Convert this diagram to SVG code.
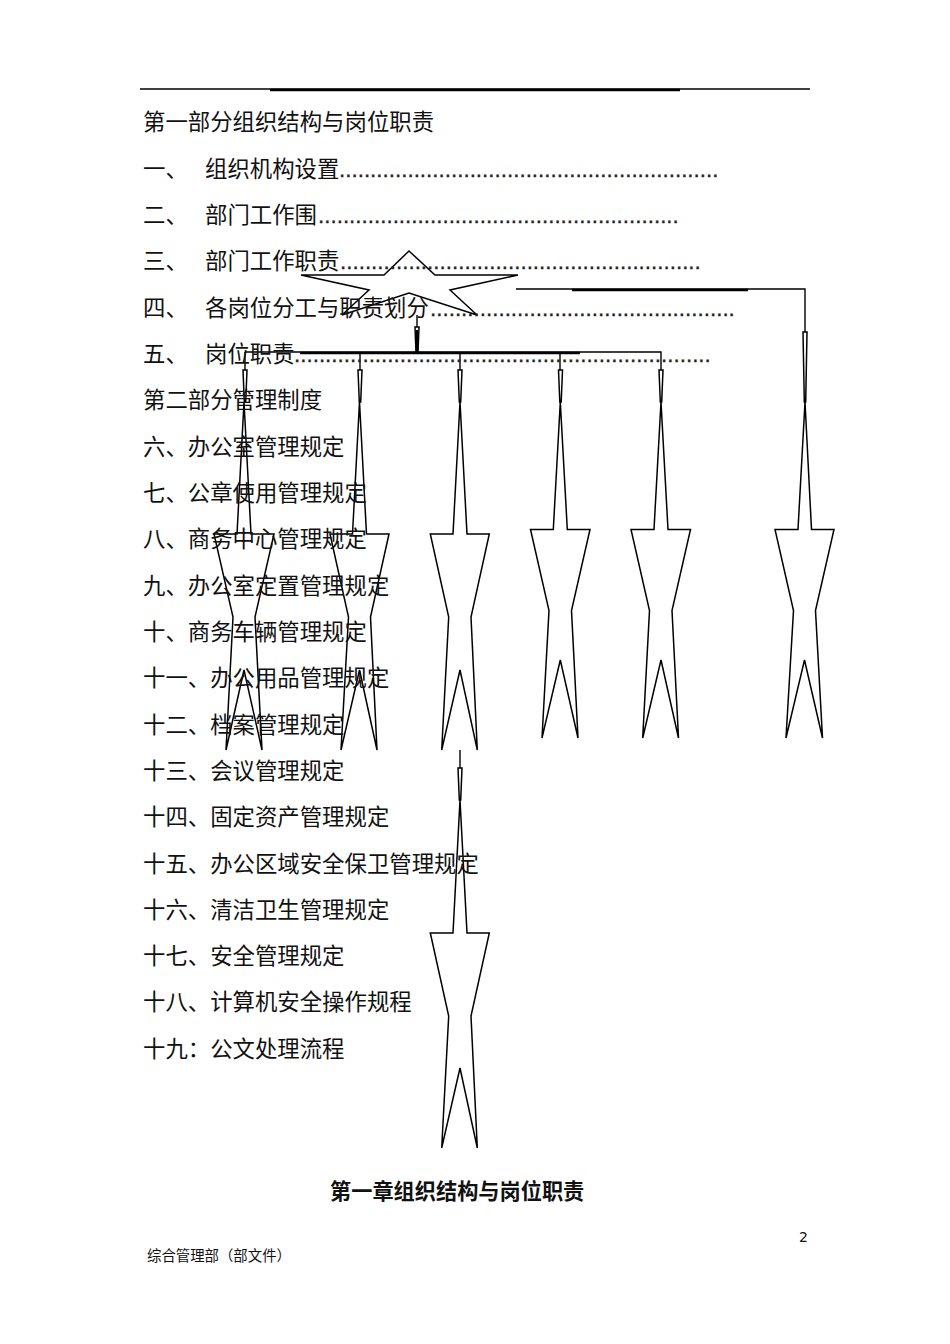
<svg xmlns="http://www.w3.org/2000/svg" width="950" height="1344" viewBox="0 0 950 1344">
<style>
text{font-family:"Noto Sans CJK SC","DejaVu Sans",sans-serif;font-size:22.4px;fill:#111}
.d{font-family:"Liberation Sans",sans-serif;fill:#222;stroke:#222;stroke-width:.3}
.s{fill:none;stroke:#000;stroke-width:1.5;stroke-linejoin:miter}
.t{fill:none;stroke:#000;stroke-width:2.4}
.l{fill:none;stroke:#000;stroke-width:1.4}
</style>
<defs>
<g id="tail"><path class="s" d="M-2 0H2L0.7 32H-0.7Z"/></g>
</defs>
<rect width="950" height="1344" fill="#fff"/>
<g id="rule"><path class="l" d="M140 89H810"/><path class="t" d="M270 90H680"/></g>
<g id="star"><path class="s" d="M409 251L435 275H518L450 290L477 315L409 293L342 315L369 290L301 275H384Z"/></g>
<g id="connectors">
<path class="l" d="M245 352H661V370M360 352V370M460 352V370M560 352V370M417 315V327M516 289H805V332M460 750V768M245 352V370"/>
<path class="t" d="M300 353H580M572 290H748M417 330V352"/>
<path class="s" d="M415 327H419L418 352H416Z"/>
<use href="#tail" x="245" y="370"/><use href="#tail" x="360" y="370"/><use href="#tail" x="460" y="370"/><use href="#tail" x="560.5" y="370"/><use href="#tail" x="661" y="370"/><use href="#tail" x="460" y="768"/>
<path class="s" d="M803 332H807L805.7 402H804.3Z"/>
</g>
<g id="a1"><path class="s" d="M244 402L237 534H214L233 617L226 750L244 670L262 750L255 617L274 534H251Z"/></g>
<g id="a2"><path class="s" d="M359.500 402L352.500 534H330L348.500 617L341 750L359.500 670L377 750L370.500 617L389 534H366.500Z"/></g>
<g id="a3"><path class="s" d="M460 402L453 534H430.300L448.700 617L441.700 750L460 670L477.300 750L471 617L489.300 534H467Z"/></g>
<g id="a4"><path class="s" d="M560.300 402L553.300 529.500H530.500L549 610.500L542 738L560.300 660L578 738L571.500 610.500L590 529.500H567.300Z"/></g>
<g id="a5"><path class="s" d="M661 402L654 529.500H631L649.500 610.500L642.700 738L661 660L678.500 738L672 610.500L690.500 529.500H668Z"/></g>
<g id="a6"><path class="s" d="M805 402L798 529.500H775L793.500 610.500L786 738L804.500 660L822.500 738L815.500 610.500L834 529.500H811.500Z"/></g>
<g id="a7"><path class="s" d="M460 800L453 933H430.300L448.700 1016L441.700 1148L460 1068L477.300 1148L471 1016L489.300 933H467Z"/></g>
<g id="toc">
<text x="143" y="130">第一部分组织结构与岗位职责</text>
<text x="143" y="177">一、</text><text x="205" y="177">组织机构设置</text><text class="d" x="339" y="177">.............................................................</text>
<text x="143" y="223">二、</text><text x="205" y="223">部门工作围</text><text class="d" x="318" y="223">..........................................................</text>
<text x="143" y="269">三、</text><text x="205" y="269">部门工作职责</text><text class="d" x="340" y="269">..........................................................</text>
<text x="143" y="316">四、</text><text x="205" y="316">各岗位分工与职责划分</text><text class="d" x="430" y="316">.................................................</text>
<text x="143" y="362">五、</text><text x="205" y="362">岗位职责</text><text class="d" x="294" y="362">...................................................................</text>
<text x="143" y="408">第二部分管理制度</text>
<text x="143" y="455">六、办公室管理规定</text>
<text x="143" y="501">七、公章使用管理规定</text>
<text x="143" y="547">八、商务中心管理规定</text>
<text x="143" y="594">九、办公室定置管理规定</text>
<text x="143" y="640">十、商务车辆管理规定</text>
<text x="143" y="686">十一、办公用品管理规定</text>
<text x="143" y="733">十二、档案管理规定</text>
<text x="143" y="779">十三、会议管理规定</text>
<text x="143" y="825">十四、固定资产管理规定</text>
<text x="143" y="872">十五、办公区域安全保卫管理规定</text>
<text x="143" y="918">十六、清洁卫生管理规定</text>
<text x="143" y="964">十七、安全管理规定</text>
<text x="143" y="1010">十八、计算机安全操作规程</text>
<text x="143" y="1057">十九：公文处理流程</text>
</g>
<text x="330" y="1199" style="font-weight:700;font-size:21.2px">第一章组织结构与岗位职责</text>
<text x="799" y="1242" style="font-size:14px;font-family:'DejaVu Sans',sans-serif">2</text>
<text x="147" y="1261" style="font-size:14.4px">综合管理部（部文件）</text>
</svg>
